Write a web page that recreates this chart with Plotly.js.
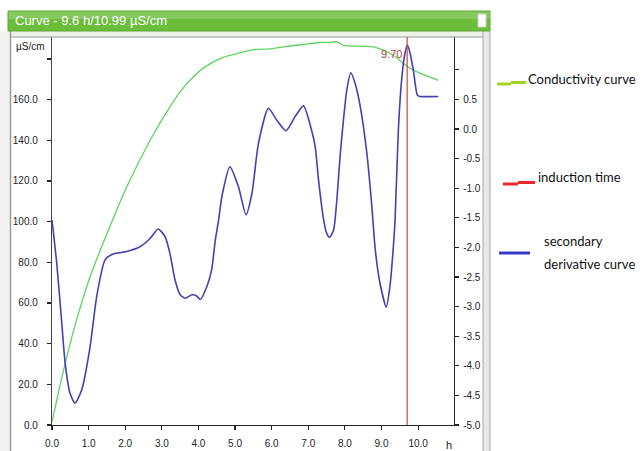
<!DOCTYPE html>
<html>
<head>
<meta charset="utf-8">
<script src="https://cdn.plot.ly/plotly-3.0.1.min.js"></script>
<style>
html,body{margin:0;padding:0;background:#fff;}
#chart{width:641px;height:451px;}
</style>
</head>
<body>
<div id="chart"></div>
<script>
// ---- data ----
const condHours = [0, 0.36, 0.67, 1.04, 1.54, 2.04, 2.68, 3.22, 3.50, 3.77, 4.13, 4.59, 5.05, 5.50, 5.96, 6.41, 6.87, 7.32, 7.55, 7.78, 7.96, 8.42, 8.78, 9.05, 9.32, 9.60, 9.78, 10.05, 10.55];
const condValues = [1.5, 30.3, 51.6, 72.9, 95.8, 117, 140, 156.4, 163.8, 169.5, 175.5, 180.2, 182.6, 184.6, 185.0, 186.2, 187.1, 188.1, 188.2, 188.4, 186.7, 186.2, 185.9, 184.3, 181.8, 177.9, 175.4, 173.0, 169.5];

const derivHours = [0.00, 0.13, 0.26, 0.36, 0.49, 0.63, 0.81, 1.04, 1.22, 1.45, 1.67, 2.04, 2.40, 2.68, 2.90, 3.09, 3.22, 3.36, 3.50, 3.64, 3.82, 3.95, 4.05, 4.23, 4.36, 4.46, 4.55, 4.64, 4.86, 5.09, 5.30, 5.46, 5.64, 5.91, 6.14, 6.39, 6.64, 6.87, 7.09, 7.19, 7.28, 7.41, 7.50, 7.58, 7.69, 7.78, 7.87, 7.96, 8.05, 8.16, 8.28, 8.42, 8.60, 8.73, 8.83, 8.96, 9.13, 9.23, 9.31, 9.37, 9.46, 9.55, 9.64, 9.71, 9.78, 9.87, 9.98, 10.05, 10.55];
const derivValues = [-1.54, -2.27, -3.23, -3.96, -4.46, -4.63, -4.41, -3.68, -2.83, -2.21, -2.11, -2.07, -1.99, -1.85, -1.69, -1.82, -2.10, -2.55, -2.80, -2.86, -2.80, -2.82, -2.88, -2.66, -2.38, -1.88, -1.54, -1.14, -0.64, -0.97, -1.45, -1.09, -0.24, 0.35, 0.15, -0.03, 0.21, 0.39, -0.02, -0.30, -0.86, -1.50, -1.76, -1.83, -1.71, -1.20, -0.45, 0.15, 0.65, 0.95, 0.77, 0.38, -0.41, -1.26, -2.04, -2.61, -3.01, -2.66, -2.10, -1.54, -0.02, 0.83, 1.28, 1.42, 1.28, 0.99, 0.57, 0.55, 0.55];

const inductionTime = 9.70;

const xTickVals = [0,1,2,3,4,5,6,7,8,9,10];
const xTickText = ["0.0","1.0","2.0","3.0","4.0","5.0","6.0","7.0","8.0","9.0","10.0"];
const yTickVals = [0,20,40,60,80,100,120,140,160,180];
const yTickText = ["0.0","20.0","40.0","60.0","80.0","100.0","120.0","140.0","160.0",""];
const y2TickVals = [-5,-4.5,-4,-3.5,-3,-2.5,-2,-1.5,-1,-0.5,0,0.5,1];
const y2TickText = ["-5.0","-4.5","-4.0","-3.5","-3.0","-2.5","-2.0","-1.5","-1.0","-0.5","0.0","0.5",""];

const titleText = "Curve - 9.6 h/10.99 µS/cm";
const legendLabels = ["Conductivity curve", "induction time", "secondary", "derivative curve"];

// ---- layout helpers (pixel -> paper) ----
const L = 52, R = 454, T = 37, B = 425;
const px = v => (v - L) / (R - L);
const py = v => (B - v) / (B - T);

const sans = "'Liberation Sans', Arial, sans-serif";
const tickFont = {family: sans, size: 10, color: '#222'};

const traces = [
  {x: condHours, y: condValues, type: 'scatter', mode: 'lines',
   line: {color: '#5fd35f', width: 1.3, shape: 'spline', smoothing: 0.9},
   hoverinfo: 'skip', showlegend: false},
  {x: derivHours, y: derivValues, type: 'scatter', mode: 'lines', yaxis: 'y2',
   line: {color: '#4343b0', width: 1.6, shape: 'spline', smoothing: 0.6},
   hoverinfo: 'skip', showlegend: false}
];

const shapes = [
  {type:'rect', xref:'paper', yref:'paper', x0:px(0), x1:px(10), y0:py(451), y1:py(31), fillcolor:'#f3f3f3', line:{width:0}, layer:'below'},
  {type:'line', xref:'paper', yref:'paper', x0:px(10.5), x1:px(10.5), y0:py(451), y1:py(31), line:{color:'#9a9a9a', width:1.5}},
  {type:'rect', xref:'paper', yref:'paper', x0:px(483), x1:px(490), y0:py(451), y1:py(31), fillcolor:'#e8e8e8', line:{width:0}, layer:'below'},
  {type:'line', xref:'paper', yref:'paper', x0:px(483), x1:px(483), y0:py(451), y1:py(31), line:{color:'#a8a8a8', width:1}},
  {type:'line', xref:'paper', yref:'paper', x0:px(490), x1:px(490), y0:py(451), y1:py(31), line:{color:'#a8a8a8', width:1}},
  {type:'rect', xref:'paper', yref:'paper', x0:px(10.5), x1:px(483), y0:py(37), y1:py(31), fillcolor:'#eef3ea', line:{width:0}, layer:'below'},
  {type:'line', xref:'paper', yref:'paper', x0:px(10.5), x1:px(483), y0:py(37), y1:py(37), line:{color:'#9a9a9a', width:1.2}},
  {type:'rect', xref:'paper', yref:'paper', x0:px(8), x1:px(490), y0:py(31), y1:py(11), fillcolor:'#6cbd3c', line:{color:'#5aa82e', width:1}},
  {type:'rect', xref:'paper', yref:'paper', x0:px(8.5), x1:px(489.5), y0:py(19), y1:py(11.5), fillcolor:'rgba(255,255,255,0.18)', line:{width:0}},
  {type:'rect', xref:'paper', yref:'paper', x0:px(478), x1:px(486), y0:py(27), y1:py(14), fillcolor:'#ffffff', line:{color:'#cfcfcf', width:1}},
  {type:'line', xref:'x', yref:'paper', x0:inductionTime, x1:inductionTime, y0:0, y1:1, line:{color:'#c9463d', width:1.2}},
  {type:'line', xref:'paper', yref:'paper', x0:px(497), x1:px(511), y0:py(84), y1:py(84), line:{color:'#a2d524', width:3}},
  {type:'line', xref:'paper', yref:'paper', x0:px(511), x1:px(526), y0:py(82.5), y1:py(82.5), line:{color:'#a2d524', width:3}},
  {type:'line', xref:'paper', yref:'paper', x0:px(503), x1:px(518), y0:py(184), y1:py(184), line:{color:'#e8282a', width:3}},
  {type:'line', xref:'paper', yref:'paper', x0:px(518), x1:px(535), y0:py(182.5), y1:py(182.5), line:{color:'#e8282a', width:3}},
  {type:'line', xref:'paper', yref:'paper', x0:px(499), x1:px(530), y0:py(253), y1:py(253), line:{color:'#3838c8', width:3}}
];

const legendFont = {family: "Lato, 'Liberation Sans', sans-serif", size: 13, color: '#111'};
const annotations = [
  {text: titleText, xref:'paper', yref:'paper', x:px(13), y:py(21), xanchor:'left', yanchor:'middle', showarrow:false,
   font:{family: sans, size: 13, color:'#ffffff'}},
  {text: 'µS/cm', xref:'paper', yref:'paper', x:px(14), y:py(46), xanchor:'left', yanchor:'middle', showarrow:false,
   font:{family: sans, size: 10, color:'#222'}},
  {text: 'h', xref:'paper', yref:'paper', x:px(449), y:py(445), xanchor:'center', yanchor:'middle', showarrow:false,
   font:{family: sans, size: 11, color:'#222'}},
  {text: inductionTime.toFixed(2), xref:'x', yref:'paper', x:inductionTime, xshift:-3, y:py(54), xanchor:'right', yanchor:'middle', showarrow:false,
   font:{family: sans, size: 11, color:'#a9443a'}},
  {text: legendLabels[0], xref:'paper', yref:'paper', x:px(526), y:py(79), xanchor:'left', yanchor:'middle', showarrow:false, font: legendFont},
  {text: legendLabels[1], xref:'paper', yref:'paper', x:px(536), y:py(177), xanchor:'left', yanchor:'middle', showarrow:false, font: legendFont},
  {text: legendLabels[2], xref:'paper', yref:'paper', x:px(542), y:py(241), xanchor:'left', yanchor:'middle', showarrow:false, font: legendFont},
  {text: legendLabels[3], xref:'paper', yref:'paper', x:px(542), y:py(264), xanchor:'left', yanchor:'middle', showarrow:false, font: legendFont}
];

const layout = {
  width: 641, height: 451,
  margin: {l: L, r: 641 - R, t: T, b: 451 - B, pad: 0},
  paper_bgcolor: '#ffffff', plot_bgcolor: '#ffffff',
  showlegend: false,
  xaxis: {range: [0, 10.98], tickvals: xTickVals, ticktext: xTickText, ticks: 'outside', ticklen: 4, tickwidth: 1.2,
          tickcolor: '#222', showline: true, linecolor: '#222', linewidth: 1.2, showgrid: false, zeroline: false,
          tickfont: tickFont, ticklabelstandoff: 5, fixedrange: true},
  yaxis: {range: [0, 190.8], tickvals: yTickVals, ticktext: yTickText, ticks: 'outside', ticklen: 4, tickwidth: 1.2,
          tickcolor: '#222', showline: true, linecolor: '#444', linewidth: 1.2, showgrid: false, zeroline: false,
          tickfont: tickFont, ticklabelstandoff: 7, fixedrange: true},
  yaxis2: {range: [-5, 1.554], overlaying: 'y', side: 'right', tickvals: y2TickVals, ticktext: y2TickText, ticks: 'outside',
           ticklen: 4, tickwidth: 1.2, tickcolor: '#222', showline: true, linecolor: '#222', linewidth: 1.2,
           showgrid: false, zeroline: false, tickfont: tickFont, ticklabelstandoff: 2, fixedrange: true},
  shapes: shapes,
  annotations: annotations
};

Plotly.newPlot('chart', traces, layout, {staticPlot: true, displayModeBar: false});
</script>
</body>
</html>
